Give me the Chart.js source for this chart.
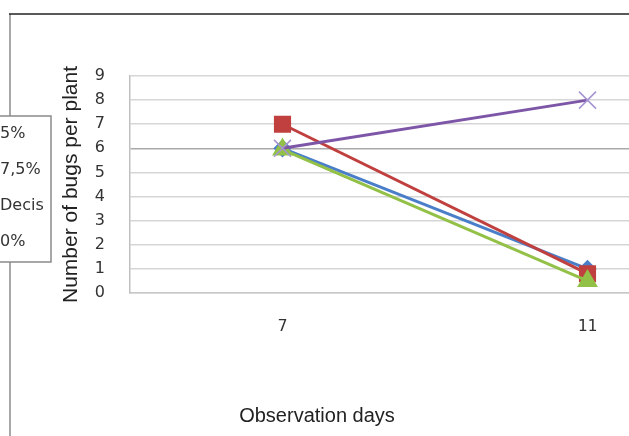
<!DOCTYPE html>
<html lang="en">
<head>
    <meta charset="UTF-8">
    <title>Number of bugs per plant</title>
    <script src="https://cdn.jsdelivr.net/npm/chart.js"></script>
    <style>
        body {
            margin: 0;
            background: #fff;
            overflow: hidden;
        }
        .graph-container {
            width: 800px;
            height: 436px;
        }
    </style>
</head>
<body>

    <div class="graph-container">
        <canvas id="bugChart" width="800" height="436"></canvas>
    </div>

    <script>
        // data
        const days = ["7", "11"];
        const seriesNames = ["5%", "7,5%", "Decis", "0%"];
        const bugsBlue = [6, 1];
        const bugsRed = [7, 0.8];
        const bugsGreen = [5.95, 0.5];
        const bugsPurple = [6, 8];
        const yTicks = [0, 1, 2, 3, 4, 5, 6, 7, 8, 9];

        // frame lines, legend box and the x title
        const extras = {
            id: "extras",
            beforeDraw(chart) {
                const ctx = chart.ctx;
                ctx.save();
                ctx.strokeStyle = "#a8a8a8";
                ctx.lineWidth = 2;
                ctx.beginPath();
                ctx.moveTo(10, 14);
                ctx.lineTo(10, 436);
                ctx.stroke();
                ctx.strokeStyle = "#222";
                ctx.lineWidth = 1.5;
                ctx.beginPath();
                ctx.moveTo(9, 14);
                ctx.lineTo(800, 14);
                ctx.stroke();
                ctx.restore();
            },
            afterDraw(chart) {
                const ctx = chart.ctx;
                ctx.save();
                ctx.fillStyle = "#fff";
                ctx.fillRect(-5, 116, 56, 146);
                ctx.strokeStyle = "#8a8a8a";
                ctx.lineWidth = 1.5;
                ctx.strokeRect(-5, 116, 56, 146);
                ctx.fillStyle = "#333";
                ctx.font = "16px 'DejaVu Sans'";
                ctx.textBaseline = "middle";
                ctx.textAlign = "left";
                chart.data.datasets.forEach((ds, i) => {
                    ctx.fillText(ds.label, 0, 134 + i * 36);
                });
                ctx.font = "20px 'Liberation Sans'";
                ctx.textAlign = "center";
                ctx.fillStyle = "#222";
                ctx.fillText("Observation days", 317, 416);
                ctx.restore();
            }
        };

        const ctx = document.getElementById("bugChart").getContext("2d");
        const bugChart = new Chart(ctx, {
            type: "line",
            data: {
                labels: days,
                datasets: [{
                    label: seriesNames[0],
                    data: bugsBlue,
                    borderColor: "#4a7ec8",
                    backgroundColor: "#4a7ec8",
                    borderWidth: 3,
                    pointStyle: "rectRot",
                    pointRadius: 7,
                    order: 4
                }, {
                    label: seriesNames[1],
                    data: bugsRed,
                    borderColor: "#c0403f",
                    backgroundColor: "#c0403f",
                    borderWidth: 3,
                    pointStyle: "rect",
                    pointRadius: 10,
                    order: 3
                }, {
                    label: seriesNames[2],
                    data: bugsGreen,
                    borderColor: "#93c047",
                    backgroundColor: "#93c047",
                    borderWidth: 3,
                    pointStyle: "triangle",
                    pointRadius: 9,
                    order: 2
                }, {
                    label: seriesNames[3],
                    data: bugsPurple,
                    borderColor: "#7e56a8",
                    backgroundColor: "#7e56a8",
                    borderWidth: 3,
                    pointStyle: "crossRot",
                    pointRadius: 12,
                    pointBorderColor: "#a594d0",
                    pointBorderWidth: 1.5,
                    order: 1
                }]
            },
            options: {
                responsive: false,
                animation: false,
                layout: {
                    padding: { left: 59, right: 60, top: 76, bottom: 0 }
                },
                plugins: {
                    legend: { display: false },
                    tooltip: { enabled: false }
                },
                scales: {
                    x: {
                        offset: true,
                        afterFit: (scale) => { scale.height = 143; },
                        grid: { display: false, drawTicks: false },
                        border: { display: true, color: "#c8c8c8", width: 1.5 },
                        ticks: {
                            padding: 24,
                            maxRotation: 0,
                            color: "#333",
                            font: { family: "DejaVu Sans Mono", size: 16 }
                        }
                    },
                    y: {
                        min: yTicks[0],
                        max: yTicks[yTicks.length - 1],
                        afterFit: (scale) => { scale.width = 71; },
                        afterBuildTicks: (scale) => {
                            scale.ticks = yTicks.map(v => ({ value: v }));
                        },
                        grid: {
                            drawTicks: false,
                            lineWidth: 1.5,
                            color: (c) => c.tick && c.tick.value === 6 ? "#a9a9a9" : "#d6d6d6"
                        },
                        border: { display: true, color: "#c0c0c0", width: 1.5 },
                        ticks: {
                            padding: 25,
                            color: "#333",
                            font: { family: "DejaVu Sans", size: 16 }
                        },
                        title: {
                            display: true,
                            text: "Number of bugs per plant",
                            color: "#222",
                            padding: 0,
                            font: { family: "Liberation Sans", size: 21 }
                        }
                    }
                }
            },
            plugins: [extras]
        });
    </script>

</body>
</html>
